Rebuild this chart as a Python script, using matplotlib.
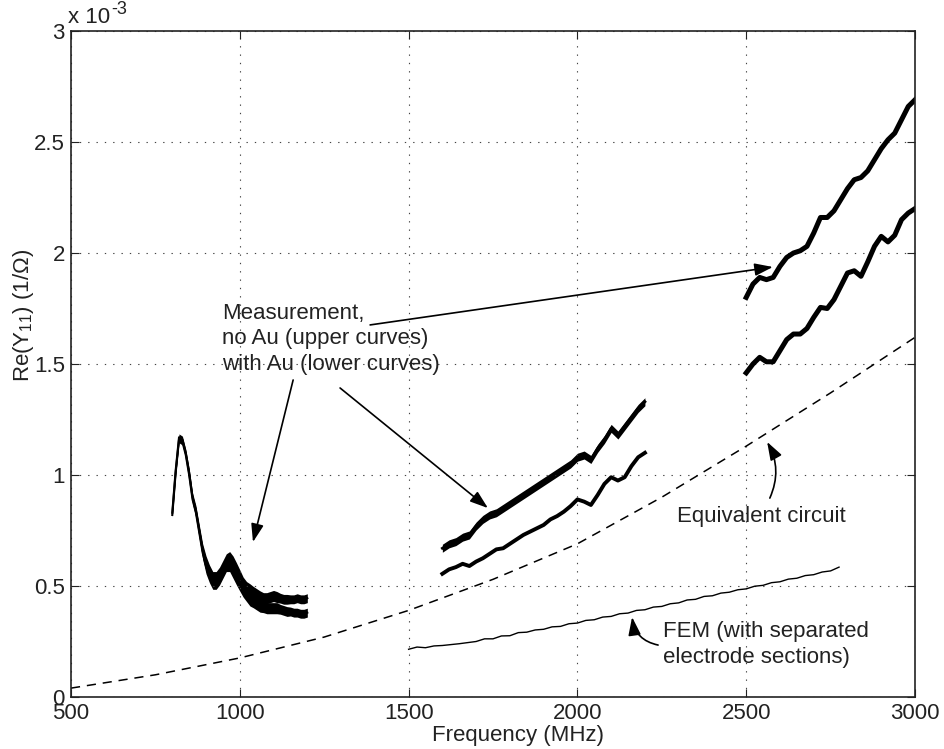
import matplotlib
matplotlib.use("Agg")
import matplotlib.pyplot as plt
import numpy as np

plt.rcParams['font.family'] = ['Liberation Sans', 'DejaVu Sans']
plt.rcParams['mathtext.fontset'] = 'custom'
plt.rcParams['mathtext.rm'] = 'Liberation Sans'
plt.rcParams['mathtext.it'] = 'Liberation Sans:italic'

# ---- data (Re(Y11) in units of 1e-3 1/Ohm, frequency in MHz) ----
f_low = np.arange(800, 1201, 10)
low_no_au = [0.83, 1.02, 1.17, 1.16, 1.10, 1.01, 0.90, 0.84, 0.75, 0.66,
             0.60, 0.56, 0.53, 0.53, 0.55, 0.58, 0.61, 0.62, 0.60, 0.57,
             0.54, 0.51, 0.49, 0.48, 0.47, 0.46, 0.45, 0.445, 0.445, 0.45,
             0.455, 0.45, 0.445, 0.44, 0.44, 0.44, 0.44, 0.445, 0.44, 0.44, 0.445]
low_with_au = [0.82, 1.01, 1.16, 1.15, 1.09, 1.00, 0.89, 0.83, 0.74, 0.65,
               0.59, 0.55, 0.52, 0.52, 0.54, 0.57, 0.60, 0.60, 0.57, 0.54,
               0.51, 0.48, 0.46, 0.44, 0.43, 0.42, 0.41, 0.405, 0.40, 0.40,
               0.40, 0.40, 0.395, 0.39, 0.385, 0.385, 0.38, 0.38, 0.375, 0.375, 0.38]
low_ripple = [0.01, 0.012, 0.015, 0.015, 0.015, 0.02, 0.02, 0.022, 0.025, 0.03,
              0.035, 0.035, 0.035, 0.035, 0.035, 0.035, 0.035, 0.035, 0.035, 0.035,
              0.033, 0.03, 0.03, 0.03, 0.028, 0.028, 0.028, 0.025, 0.025, 0.025,
              0.025, 0.025, 0.022, 0.022, 0.022, 0.02, 0.02, 0.02, 0.02, 0.02, 0.02]

f_mid = np.arange(1600, 2201, 20)
mid_no_au = [0.67, 0.69, 0.70, 0.72, 0.73, 0.77, 0.80, 0.82, 0.83, 0.85,
             0.87, 0.89, 0.91, 0.93, 0.95, 0.97, 0.99, 1.01, 1.03, 1.05,
             1.08, 1.09, 1.07, 1.12, 1.16, 1.21, 1.18, 1.22, 1.26, 1.30, 1.33]
mid_with_au = [0.555, 0.575, 0.585, 0.60, 0.59, 0.61, 0.625, 0.645, 0.665, 0.67,
               0.69, 0.71, 0.73, 0.745, 0.76, 0.775, 0.80, 0.815, 0.835, 0.86,
               0.89, 0.88, 0.865, 0.91, 0.96, 0.99, 0.975, 0.99, 1.04, 1.08, 1.10]

f_high = np.arange(2500, 3001, 20)
high_no_au = [1.80, 1.86, 1.89, 1.88, 1.89, 1.94, 1.98, 2.00, 2.01, 2.03,
              2.09, 2.16, 2.16, 2.19, 2.24, 2.29, 2.33, 2.34, 2.37, 2.42,
              2.47, 2.51, 2.54, 2.60, 2.66, 2.69]
high_with_au = [1.46, 1.50, 1.53, 1.51, 1.51, 1.56, 1.61, 1.635, 1.635, 1.66,
                1.71, 1.755, 1.75, 1.79, 1.85, 1.91, 1.92, 1.895, 1.96, 2.03,
                2.075, 2.05, 2.08, 2.15, 2.18, 2.20]

f_eq = [500, 750, 1000, 1250, 1500, 1750, 2000, 2250, 2500, 2750, 3000]
eq_circuit = [0.04, 0.10, 0.176, 0.27, 0.39, 0.53, 0.69, 0.90, 1.13, 1.37, 1.62]

f_fem = np.arange(1500, 2776, 25)
fem = [0.215, 0.225, 0.222, 0.23, 0.232, 0.236, 0.24, 0.245, 0.25, 0.262,
       0.262, 0.275, 0.276, 0.29, 0.292, 0.302, 0.305, 0.316, 0.318, 0.33,
       0.333, 0.345, 0.348, 0.36, 0.363, 0.375, 0.378, 0.39, 0.393, 0.405,
       0.408, 0.42, 0.424, 0.437, 0.44, 0.453, 0.456, 0.468, 0.472, 0.483,
       0.487, 0.499, 0.503, 0.515, 0.519, 0.531, 0.535, 0.547, 0.551, 0.563,
       0.568, 0.585]

x_ticks = [500, 1000, 1500, 2000, 2500, 3000]
y_ticks = [0, 0.5, 1, 1.5, 2, 2.5, 3]
y_tick_labels = ['0', '0.5', '1', '1.5', '2', '2.5', '3']

meas_lines = ['Measurement,', 'no Au (upper curves)', 'with Au (lower curves)']
fem_lines = ['FEM (with separated', 'electrode sections)']

# ---- figure ----
W, H = 944, 749
fig = plt.figure(figsize=(W / 100, H / 100), dpi=100)
ax = fig.add_axes([71 / W, 1 - 697 / H, 844 / W, 666 / H])

k = 'black'
txt = '#222222'
fs = 16

# low band, both samples
for c in (low_no_au, low_with_au):
    c = np.array(c)
    r = np.array(low_ripple)
    ax.fill_between(f_low, c - r, c + r, color=k, lw=0)
    ax.plot(f_low, c, color=k, lw=1.5)

# middle band
ax.fill_between(f_mid, np.array(mid_no_au) - 0.018, np.array(mid_no_au) + 0.018, color=k, lw=0)
ax.plot(f_mid, mid_no_au, color=k, lw=2.0)
ax.plot(f_mid, mid_with_au, color=k, lw=2.8, solid_joinstyle='round')

# high band
ax.plot(f_high, high_no_au, color=k, lw=3.6, solid_joinstyle='round')
ax.plot(f_high, high_with_au, color=k, lw=3.6, solid_joinstyle='round')

# simulations
ax.plot(f_eq, eq_circuit, color=k, lw=1.1, linestyle=(0, (6, 4.5)))
ax.plot(f_fem, fem, color=k, lw=1.0)

ax.set_xlim(500, 3000)
ax.set_ylim(0, 3)
ax.set_xticks(x_ticks)
ax.set_xticklabels([str(t) for t in x_ticks])
ax.set_yticks(y_ticks)
ax.set_yticklabels(y_tick_labels)
ax.tick_params(direction='in', length=6, width=0.8, top=True, right=True,
               labelsize=fs, colors=txt)
ax.tick_params(axis='x', pad=4.5)
ax.tick_params(axis='y', pad=4.5)
ax.grid(True, color='#444444', linestyle=(0, (1.2, 6.3)), linewidth=0.8)
for s in ax.spines.values():
    s.set_linewidth(1.2)
    s.set_color(txt)

ax.set_xlabel('Frequency (MHz)', fontsize=fs, color=txt)
ax.xaxis.set_label_coords((518 - 71) / 844, (697 - 741) / 666)
ax.xaxis.label.set_verticalalignment('baseline')
ax.set_ylabel(r'Re(Y$_{\mathregular{11}}$) (1/Ω)', fontsize=fs, color=txt)
ax.yaxis.set_label_coords((36 - 71) / 844, (697 - 315) / 666)

# exponent of the y axis
ax.text((68 - 71) / 844, (697 - 23) / 666, 'x 10', transform=ax.transAxes,
        fontsize=fs, ha='left', va='baseline', color=txt)
ax.text((111 - 71) / 844, (697 - 14) / 666, '-3', transform=ax.transAxes,
        fontsize=13, ha='left', va='baseline', color=txt)

# annotations
for line, yv in zip(meas_lines, [1.703, 1.588, 1.473]):
    ax.text(947, yv, line, fontsize=fs, ha='left', va='baseline', color=txt)
ax.text(2294, 0.79, 'Equivalent circuit', fontsize=fs, ha='left', va='baseline', color=txt)
for line, yv in zip(fem_lines, [0.272, 0.152]):
    ax.text(2254, yv, line, fontsize=fs, ha='left', va='baseline', color=txt)

astyle = dict(arrowstyle='-|>,head_length=1.1,head_width=0.38', color=k, lw=1.2,
              shrinkA=0, shrinkB=0)
ax.annotate('', xy=(2579, 1.937), xytext=(1386, 1.676), arrowprops=astyle)
ax.annotate('', xy=(1735, 0.851), xytext=(1297, 1.392), arrowprops=astyle)
ax.annotate('', xy=(1039, 0.698), xytext=(1158, 1.428), arrowprops=astyle)
ax.annotate('', xy=(2562, 1.149), xytext=(2570, 0.896),
            arrowprops=dict(astyle, connectionstyle='arc3,rad=0.25'))
ax.annotate('', xy=(2162, 0.36), xytext=(2239, 0.234),
            arrowprops=dict(astyle, connectionstyle='arc3,rad=-0.35'))

fig.savefig('out.png', dpi=100)
